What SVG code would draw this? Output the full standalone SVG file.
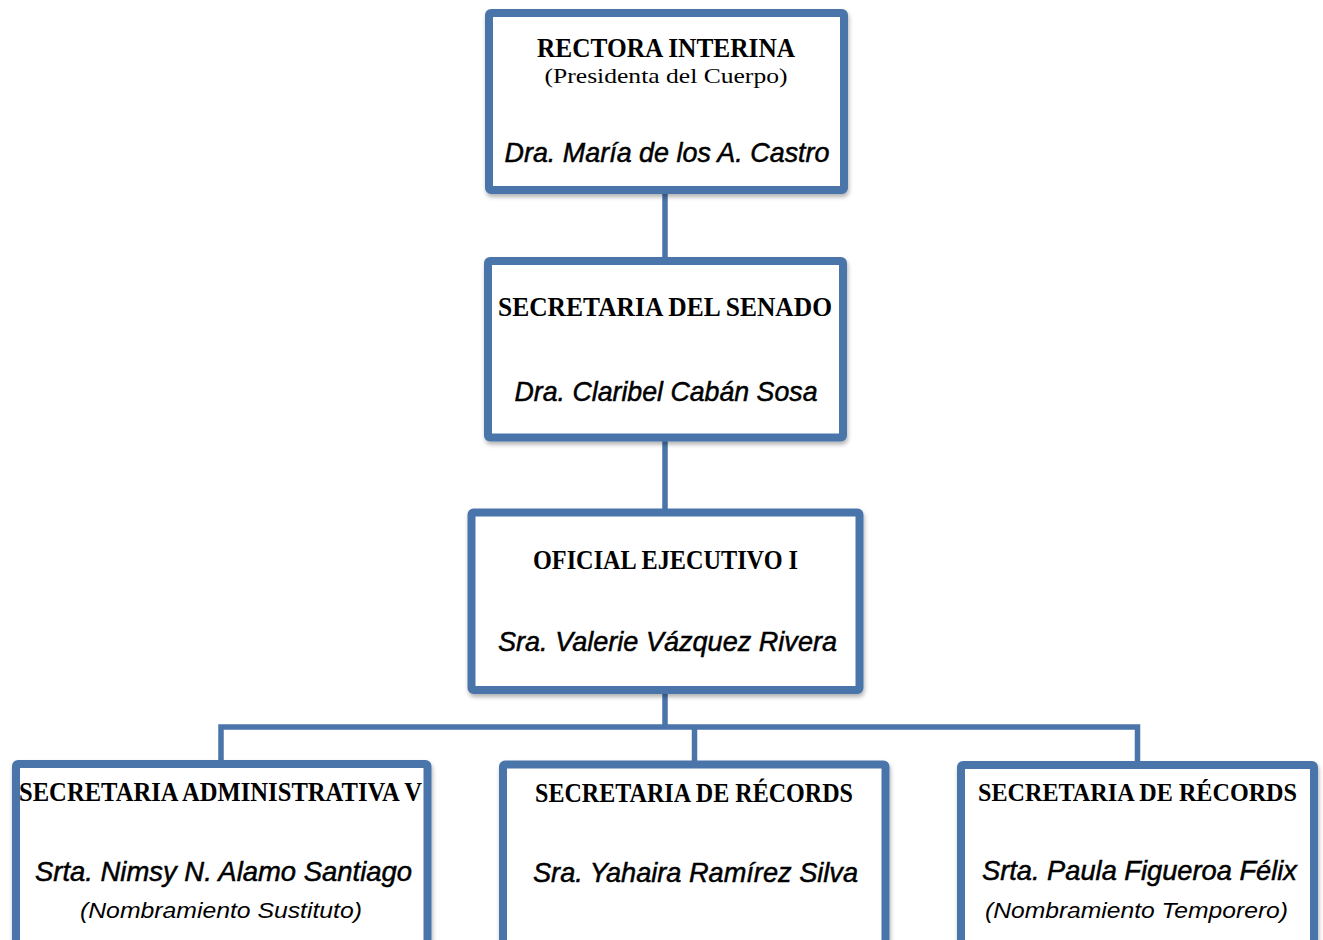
<svg xmlns="http://www.w3.org/2000/svg" width="1323" height="940" viewBox="0 0 1323 940">
<style>
.box{fill:#fff;stroke:#4A74AA;stroke-width:8;filter:url(#sh)}
.conn{fill:none;stroke:#4A74AA;stroke-width:5.5}
.t{font-family:"Liberation Serif",serif;font-weight:bold;font-size:27px;fill:#000;text-anchor:middle}
.s{font-family:"Liberation Serif",serif;font-size:22px;fill:#000;text-anchor:middle}
.n{font-family:"Liberation Sans",sans-serif;font-style:italic;font-size:28px;fill:#000;stroke:#000;stroke-width:0.5;text-anchor:middle}
.m{font-family:"Liberation Sans",sans-serif;font-style:italic;font-size:22px;fill:#000;text-anchor:middle}
</style>
<defs>
<filter id="sh" x="-5%" y="-5%" width="110%" height="115%">
<feDropShadow dx="1" dy="3" stdDeviation="2" flood-color="#000" flood-opacity="0.3"/>
</filter>
</defs>
<rect width="1323" height="940" fill="#fff"/>
<g id="connectors">
<line class="conn" x1="665" y1="190" x2="665" y2="261"/>
<line class="conn" x1="665" y1="437" x2="665" y2="512"/>
<line class="conn" x1="665" y1="690" x2="665" y2="727"/>
<polyline class="conn" points="221,764 221,727 1137.5,727 1137.5,765"/>
<line class="conn" x1="694.5" y1="727" x2="694.5" y2="764"/>
</g>
<g id="n1">
<rect class="box" x="489" y="13" width="355" height="177" rx="2"/>
<text class="t" x="666" y="57" textLength="258" lengthAdjust="spacingAndGlyphs">RECTORA INTERINA</text>
<text class="s" x="666" y="83" textLength="243" lengthAdjust="spacingAndGlyphs">(Presidenta del Cuerpo)</text>
<text class="n" x="667" y="162" textLength="325" lengthAdjust="spacingAndGlyphs">Dra. María de los A. Castro</text>
</g>
<g id="n2">
<rect class="box" x="488" y="261" width="355" height="176.5" rx="2"/>
<text class="t" x="665" y="316" textLength="334" lengthAdjust="spacingAndGlyphs">SECRETARIA DEL SENADO</text>
<text class="n" x="666" y="401" textLength="303" lengthAdjust="spacingAndGlyphs">Dra. Claribel Cabán Sosa</text>
</g>
<g id="n3">
<rect class="box" x="471.5" y="512.5" width="388" height="177.5" rx="2"/>
<text class="t" x="665.5" y="569" textLength="265" lengthAdjust="spacingAndGlyphs">OFICIAL EJECUTIVO I</text>
<text class="n" x="667.5" y="651" textLength="339" lengthAdjust="spacingAndGlyphs">Sra. Valerie Vázquez Rivera</text>
</g>
<g id="n4">
<rect class="box" x="16" y="764" width="411.5" height="200" rx="2"/>
<text class="t" x="220.5" y="801" textLength="403" lengthAdjust="spacingAndGlyphs">SECRETARIA ADMINISTRATIVA V</text>
<text class="n" x="223.5" y="881" textLength="377" lengthAdjust="spacingAndGlyphs">Srta. Nimsy N. Alamo Santiago</text>
<text class="m" x="221" y="918" textLength="282" lengthAdjust="spacingAndGlyphs">(Nombramiento Sustituto)</text>
</g>
<g id="n5">
<rect class="box" x="503" y="764.5" width="382.5" height="200" rx="2"/>
<text class="t" x="694" y="802" textLength="318" lengthAdjust="spacingAndGlyphs">SECRETARIA DE RÉCORDS</text>
<text class="n" x="695.5" y="882" textLength="325" lengthAdjust="spacingAndGlyphs">Sra. Yahaira Ramírez Silva</text>
</g>
<g id="n6">
<rect class="box" x="961" y="765" width="353" height="200" rx="2"/>
<text class="t" x="1137.5" y="801" font-size="26" textLength="319" lengthAdjust="spacingAndGlyphs" style="font-size:26px">SECRETARIA DE RÉCORDS</text>
<text class="n" x="1139.5" y="880" textLength="315" lengthAdjust="spacingAndGlyphs">Srta. Paula Figueroa Félix</text>
<text class="m" x="1136.5" y="918" textLength="303" lengthAdjust="spacingAndGlyphs">(Nombramiento Temporero)</text>
</g>
</svg>
